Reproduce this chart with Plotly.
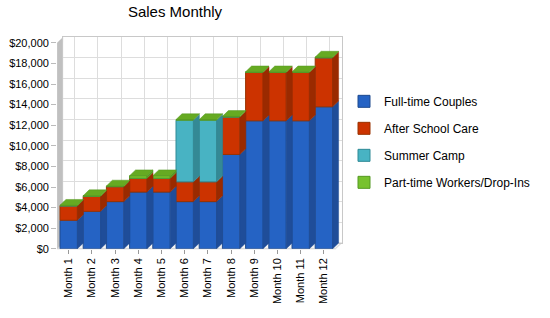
import plotly.graph_objects as go

months = ["Month 1", "Month 2", "Month 3", "Month 4", "Month 5", "Month 6",
          "Month 7", "Month 8", "Month 9", "Month 10", "Month 11", "Month 12"]
full_time = [2770, 3640, 4580, 5510, 5510, 4580, 4580, 9160, 12430, 12430, 12430, 13790]
after_school = [1400, 1460, 1460, 1340, 1340, 1920, 1920, 3640, 4700, 4700, 4700, 4770]
summer_camp = [0, 0, 0, 0, 0, 5990, 5990, 0, 0, 0, 0, 0]
part_time = [60, 60, 60, 250, 250, 60, 60, 60, 60, 60, 60, 60]
y_ticks = list(range(0, 20001, 2000))
y_tick_labels = [f"${v:,}" for v in y_ticks]

series = [
    ("Full-time Couples", full_time, "#2563C4", "#1F4D99", "#1E4A8E"),
    ("After School Care", after_school, "#CC3300", "#9A2A00", "#993300"),
    ("Summer Camp", summer_camp, "#48B3C3", "#348995", "#2E8A96"),
    ("Part-time Workers/Drop-Ins", part_time, "#77C22E", "#559922", "#559922"),
]

W, H = 550, 318
FX0, FX1 = 57.1, 335.5   # front face x extents (px)
FY0, FY1 = 252.3, 38.3   # front y for 0 and 20000 (px)
D = 6.0                  # depth offset px
cat_px = (FX1 - FX0) / 12.0
val_px = (FY0 - FY1) / 20000.0
dx = D / cat_px
dy = D / val_px
bw = 0.75

def px(x):
    return x / W

def py(y):
    return 1 - y / H

fig = go.Figure()

# invisible trace for back (grid) subplot
fig.add_trace(go.Scatter(x=[None], y=[None], xaxis="x", yaxis="y",
                         showlegend=False, hoverinfo="skip"))

xs = list(range(len(months)))
base = [0.0] * len(months)
for gi, (name, vals, fc, side, line) in enumerate(series):
    fig.add_trace(go.Bar(
        x=xs, y=vals, base=base[:], name=name, width=bw,
        marker=dict(color=fc, line=dict(color=line, width=1)),
        xaxis="x2", yaxis="y2", legendgroup=name, hoverinfo="skip",
    ))
    sx, sy = [], []
    for i, v in enumerate(vals):
        if v <= 0:
            continue
        b, t = base[i], base[i] + v
        r = i + bw / 2
        sx += [r, r + dx, r + dx, r, r, None]
        sy += [b, b + dy, t + dy, t, b, None]
    fig.add_trace(go.Scatter(
        x=sx, y=sy, fill="toself", fillcolor=side, mode="lines",
        line=dict(color=side, width=0.5), xaxis="x2", yaxis="y2",
        showlegend=False, hoverinfo="skip", legendgroup=name,
    ))
    base = [b + v for b, v in zip(base, vals)]

# top faces
tx, ty = [], []
for i, t in enumerate(base):
    l, r = i - bw / 2, i + bw / 2
    tx += [l, l + dx, r + dx, r, l, None]
    ty += [t, t + dy, t + dy, t, t, None]
fig.add_trace(go.Scatter(
    x=tx, y=ty, fill="toself", fillcolor="#66AA22", mode="lines",
    line=dict(color="#559922", width=0.5), xaxis="x2", yaxis="y2",
    showlegend=False, hoverinfo="skip",
))

font = "Liberation Sans, Arial, sans-serif"

fig.update_layout(
    width=W, height=H,
    margin=dict(l=0, r=0, t=0, b=0),
    paper_bgcolor="white", plot_bgcolor="rgba(0,0,0,0)",
    barmode="overlay", hovermode=False,
    font=dict(family=font, size=11, color="black"),
    title=dict(text="Sales Monthly", x=175 / W, xanchor="center",
               y=py(12), yanchor="middle",
               font=dict(family=font, size=15, color="black")),
    xaxis=dict(domain=[px(FX0 + D), px(FX1 + D)], range=[-0.5, 11.5],
               tickvals=xs, showticklabels=False, showgrid=True,
               gridcolor="#DDDDDD", zeroline=False, anchor="y",
               showline=True, mirror=True, linecolor="#C8C8C8", ticks=""),
    yaxis=dict(domain=[py(FY0 - D), py(FY1 - D)], range=[0, 20000],
               tickvals=y_ticks, showticklabels=False, showgrid=True,
               gridcolor="#DDDDDD", zeroline=False, anchor="x",
               showline=True, mirror=True, linecolor="#C8C8C8", ticks=""),
    xaxis2=dict(domain=[px(FX0), px(FX1 + D)], range=[-0.5, 11.5 + dx],
                tickvals=xs, ticktext=months, tickangle=-90,
                showgrid=False, zeroline=False, showline=False,
                ticks="outside", ticklen=4, tickcolor="#999999",
                anchor="y2", tickfont=dict(size=11)),
    yaxis2=dict(domain=[py(FY0), py(FY1)], range=[0, 20000],
                tickvals=y_ticks, ticktext=y_tick_labels,
                showgrid=False, zeroline=False, showline=False,
                ticks="outside", ticklen=5, tickcolor="#BBBBBB",
                anchor="x2", tickfont=dict(size=11)),
    legend=dict(x=344 / W, y=py(84), xanchor="left", yanchor="top",
                traceorder="grouped", tracegroupgap=8,
                font=dict(family=font, size=12, color="black"),
                bgcolor="rgba(0,0,0,0)"),
    shapes=[
        # left side wall
        dict(type="path", xref="paper", yref="paper", layer="below",
             path=f"M {px(FX0)},{py(FY1)} L {px(FX0 + D)},{py(FY1 - D)} "
                  f"L {px(FX0 + D)},{py(FY0 - D)} L {px(FX0)},{py(FY0)} Z",
             fillcolor="#C0C0C0", line=dict(width=0)),
        # floor
        dict(type="path", xref="paper", yref="paper", layer="below",
             path=f"M {px(FX0)},{py(FY0)} L {px(FX1)},{py(FY0)} "
                  f"L {px(FX1 + D)},{py(FY0 - D)} L {px(FX0 + D)},{py(FY0 - D)} Z",
             fillcolor="#F4F4F4", line=dict(color="#D0D0D0", width=1)),
    ],
)

fig.write_html("out.html")
